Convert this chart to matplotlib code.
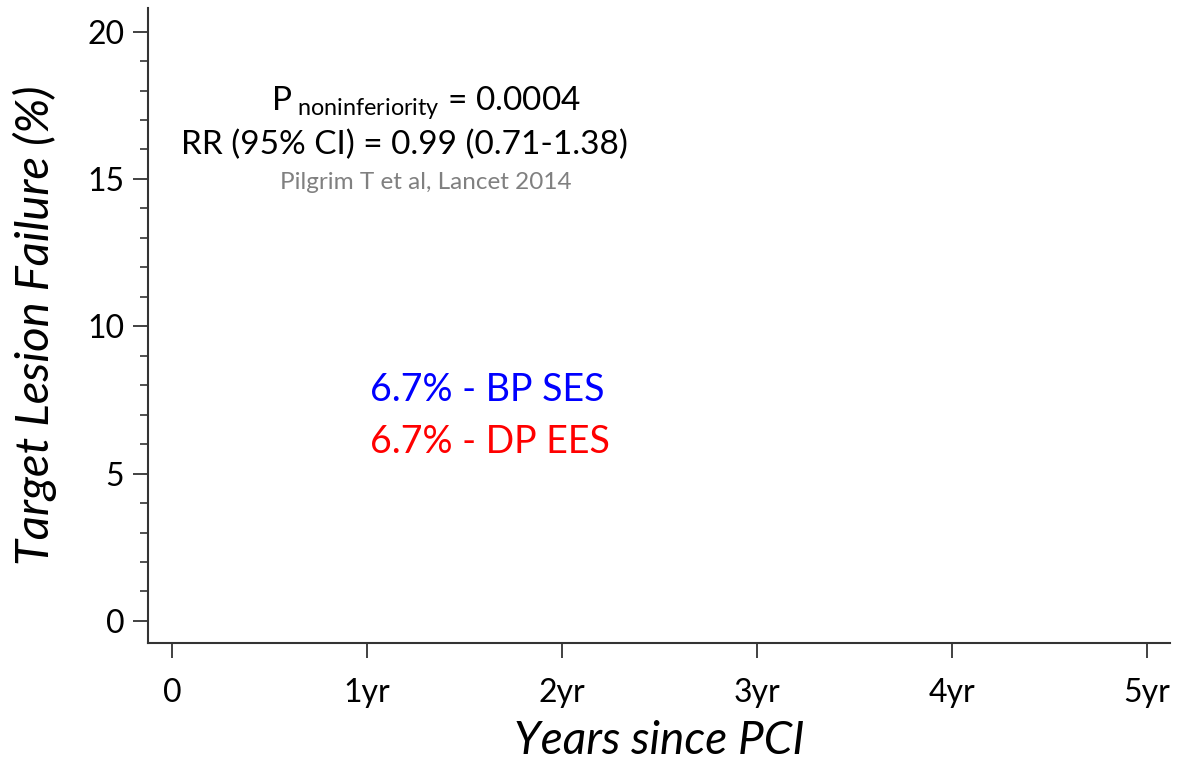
import matplotlib
matplotlib.use("Agg")
import matplotlib.pyplot as plt
from matplotlib.ticker import MultipleLocator

plt.rcParams['font.family'] = ['Lato', 'DejaVu Sans']
plt.rcParams['mathtext.fontset'] = 'custom'
plt.rcParams['mathtext.rm'] = 'Lato'
plt.rcParams['mathtext.it'] = 'Lato:italic'

# Data
x_ticks = [0, 1, 2, 3, 4, 5]
x_tick_labels = ["0", "1yr", "2yr", "3yr", "4yr", "5yr"]
y_ticks = [0, 5, 10, 15, 20]
groups = ["BP SES", "DP EES"]
rates = [6.7, 6.7]
group_colors = ["#0000ff", "#ff0000"]
p_value = "0.0004"
rr_text = "RR (95% CI) = 0.99 (0.71-1.38)"
citation = "Pilgrim T et al, Lancet 2014"

fig = plt.figure(figsize=(11.79, 7.62), dpi=100)
ax = fig.add_axes([148/1179, 1 - 643/762, (1170-148)/1179, (643-8)/762])

ax.set_xlim(-0.123, 5.118)
ax.set_ylim(-0.75, 20.8)
ax.set_xticks(x_ticks)
ax.set_xticklabels(x_tick_labels)
ax.set_yticks(y_ticks)
ax.yaxis.set_minor_locator(MultipleLocator(1))

for s in ['top', 'right']:
    ax.spines[s].set_visible(False)
for s in ['left', 'bottom']:
    ax.spines[s].set_linewidth(1.5)
    ax.spines[s].set_color('#333333')

ax.tick_params(axis='both', which='major', length=11, width=1.3, color='#333333',
               labelsize=23, direction='out')
ax.tick_params(axis='x', pad=14)
ax.tick_params(axis='y', pad=6)
ax.tick_params(axis='y', which='minor', length=6, width=1.2, color='#333333')

ax.set_xlabel("Years since PCI", fontsize=33, style='italic', labelpad=9)
ax.set_ylabel("Target Lesion Failure (%)", fontsize=34, style='italic', labelpad=22)

ax.text(1.30, 17.6, r"P$_{\ \mathrm{noninferiority}}$ = " + p_value, fontsize=24,
        ha='center', va='center', color='black')
ax.text(1.19, 16.16, rr_text, fontsize=24, ha='center', va='center', color='black')
ax.text(1.30, 14.87, citation, fontsize=17.5, ha='center', va='center', color='#808080')

ypos = [7.84, 6.08]
for g, r, c, yp in zip(groups, rates, group_colors, ypos):
    ax.text(1.015, yp, f"{r}% - {g}", fontsize=27, ha='left', va='center', color=c)

fig.savefig("out.png", dpi=100)
